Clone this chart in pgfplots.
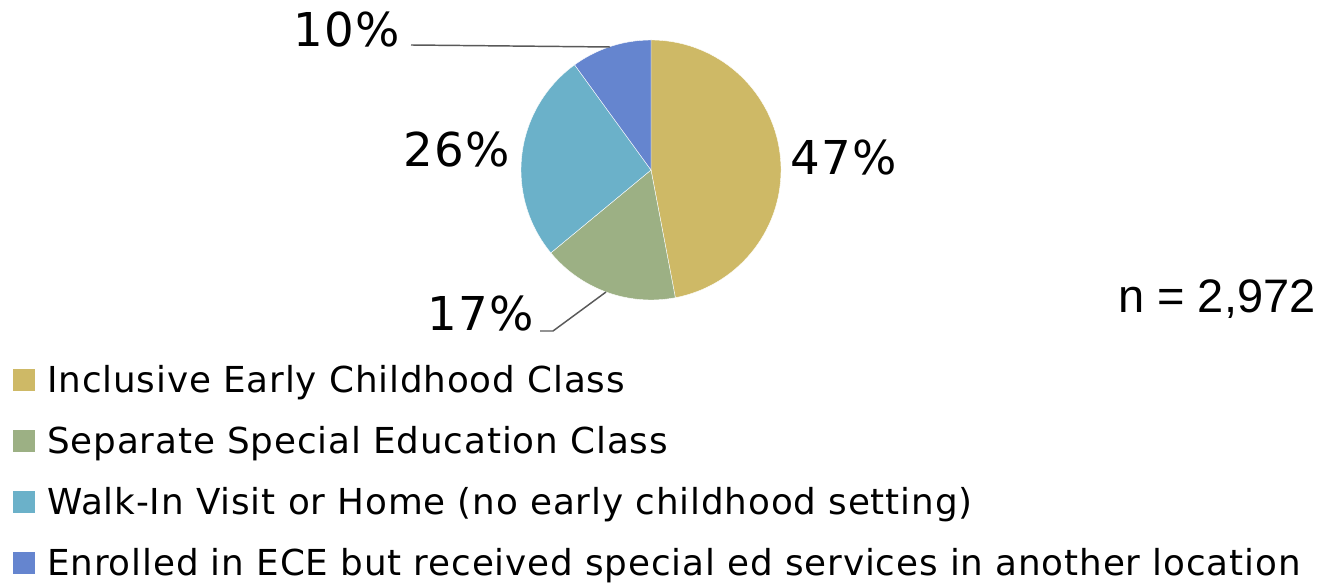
\documentclass[border=0pt]{standalone}
\usepackage{fontspec}
\setmainfont{DejaVu Sans}
\newfontfamily\legfont{DejaVu Sans}[LetterSpace=2.4]
\newfontfamily\labfont{DejaVu Sans}[LetterSpace=2.5]
\newfontfamily\arialfont{Liberation Sans}
\usepackage{pgfplots}
\usepackage{pgfplotstable}
\pgfplotsset{compat=1.18}
\definecolor{cGold}{HTML}{CEB966}
\definecolor{cGreen}{HTML}{9CB084}
\definecolor{cTeal}{HTML}{6BB1C9}
\definecolor{cBlue}{HTML}{6585CF}
\definecolor{cLead}{HTML}{595959}
\begin{document}
\begin{tikzpicture}
\pgfplotstableread{
value
47
17
26
10
}\piedata
\pgfplotstablegetelem{0}{value}\of\piedata \pgfmathsetmacro\aA{90-3.6*\pgfplotsretval}
\pgfplotstablegetelem{1}{value}\of\piedata \pgfmathsetmacro\aB{\aA-3.6*\pgfplotsretval}
\pgfplotstablegetelem{2}{value}\of\piedata \pgfmathsetmacro\aC{\aB-3.6*\pgfplotsretval}
\pgfplotstablegetelem{3}{value}\of\piedata \pgfmathsetmacro\aD{\aC-3.6*\pgfplotsretval}
\useasboundingbox (0,0) rectangle (993pt,438.75pt);
\begin{axis}[at={(0,0)}, anchor=south west,
  width=993pt, height=438.75pt, scale only axis,
  xmin=0, xmax=1324, ymin=0, ymax=585,
  hide axis, clip=false,
  legend cell align=left,
  legend style={at={(axis cs:13,229.6)}, anchor=north west, draw=none, fill=none,
    inner sep=0pt, outer sep=0pt, row sep=9.55pt,
    font=\legfont\fontsize{26.8}{30}\selectfont,
    nodes={inner sep=0pt, text height=28.2pt, text depth=8pt},
    /tikz/every odd column/.append style={column sep=9.5pt}},
]
\addlegendimage{legend image code/.code={\fill[cGold] (0pt,-7.875pt) rectangle (15.75pt,7.875pt);}}
\addlegendentry{Inclusive Early Childhood Class}
\addlegendimage{legend image code/.code={\fill[cGreen] (0pt,-7.875pt) rectangle (15.75pt,7.875pt);}}
\addlegendentry{Separate Special Education Class}
\addlegendimage{legend image code/.code={\fill[cTeal] (0pt,-7.875pt) rectangle (15.75pt,7.875pt);}}
\addlegendentry{Walk-In Visit or Home (no early childhood setting)}
\addlegendimage{legend image code/.code={\fill[cBlue] (0pt,-7.875pt) rectangle (15.75pt,7.875pt);}}
\addlegendentry{Enrolled in ECE but received special ed services in another location}

\filldraw[fill=cGold, draw=white, line width=0.3pt] (axis cs:651,415) -- ++(90:97.5pt) arc[start angle=90, end angle=\aA, radius=97.5pt] -- cycle;
\filldraw[fill=cGreen, draw=white, line width=0.3pt] (axis cs:651,415) -- ++(\aA:97.5pt) arc[start angle=\aA, end angle=\aB, radius=97.5pt] -- cycle;
\filldraw[fill=cTeal, draw=white, line width=0.3pt] (axis cs:651,415) -- ++(\aB:97.5pt) arc[start angle=\aB, end angle=\aC, radius=97.5pt] -- cycle;
\filldraw[fill=cBlue, draw=white, line width=0.3pt] (axis cs:651,415) -- ++(\aC:97.5pt) arc[start angle=\aC, end angle=\aD, radius=97.5pt] -- cycle;

\draw[cLead, line width=1.1pt] (axis cs:411,540) -- (axis cs:610,538);
\draw[cLead, line width=1.1pt] (axis cs:540,254) -- (axis cs:553,254) -- (axis cs:606,293);

\node[anchor=base, inner sep=0pt, font=\labfont\fontsize{35}{42}\selectfont] at (axis cs:843.5,410) {47\%};
\node[anchor=base, inner sep=0pt, font=\labfont\fontsize{35}{42}\selectfont] at (axis cs:457,418) {26\%};
\node[anchor=base, inner sep=0pt, font=\labfont\fontsize{35}{42}\selectfont] at (axis cs:346.5,538) {10\%};
\node[anchor=base, inner sep=0pt, font=\labfont\fontsize{35}{42}\selectfont] at (axis cs:480.5,254) {17\%};
\node[anchor=base west, inner sep=0pt, font=\arialfont\fontsize{35.25}{42}\selectfont] at (axis cs:1118,272) {n = 2,972};
\end{axis}
\end{tikzpicture}
\end{document}
